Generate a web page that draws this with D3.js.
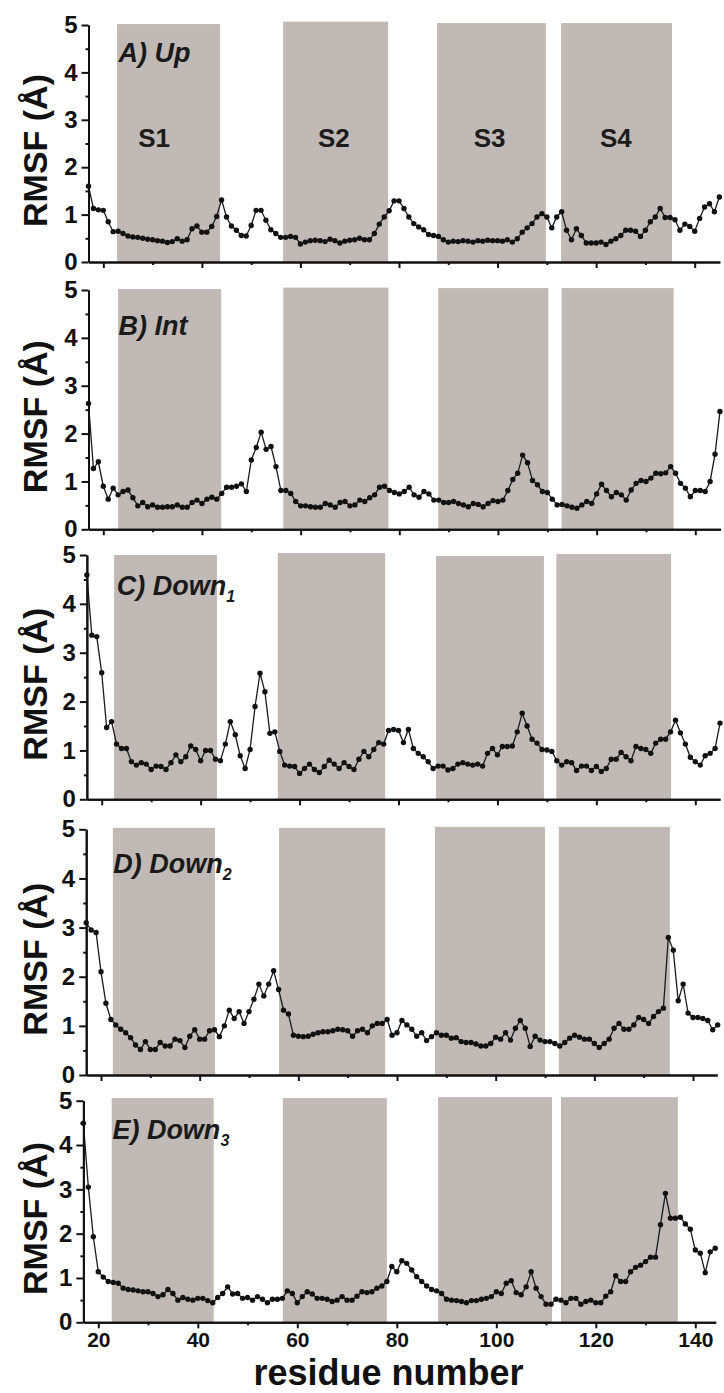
<!DOCTYPE html>
<html>
<head>
<meta charset="utf-8">
<script src="https://cdn.jsdelivr.net/npm/d3@7"></script>
<style>
  body { margin: 0; background: #fff; }
  svg text { font-family: "Liberation Sans", Arial, sans-serif; }
</style>
</head>
<body>
<div id="main"></div>
<script>
var WIDTH = 724
var HEIGHT = 1393

// first residue of every series, one value per residue after that
var firstResidue = 17

var rmsfUp = [1.6, 1.13, 1.1, 1.09, 0.85, 0.64, 0.65, 0.6, 0.55, 0.53,
    0.52, 0.5, 0.48, 0.47, 0.45, 0.44, 0.41, 0.43, 0.49, 0.44,
    0.47, 0.7, 0.76, 0.63, 0.63, 0.75, 0.96, 1.31, 0.95, 0.76,
    0.67, 0.56, 0.55, 0.77, 1.09, 1.09, 0.88, 0.68, 0.6, 0.52,
    0.52, 0.54, 0.52, 0.38, 0.42, 0.45, 0.46, 0.45, 0.43, 0.48,
    0.45, 0.4, 0.44, 0.46, 0.47, 0.5, 0.47, 0.47, 0.6, 0.8,
    0.95, 1.08, 1.29, 1.29, 1.13, 0.95, 0.81, 0.74, 0.68, 0.58,
    0.56, 0.54, 0.47, 0.42, 0.44, 0.43, 0.45, 0.44, 0.42, 0.45,
    0.44, 0.46, 0.45, 0.45, 0.44, 0.47, 0.42, 0.49, 0.63, 0.72,
    0.81, 0.95, 1.02, 0.95, 0.72, 0.95, 1.06, 0.67, 0.47, 0.7,
    0.56, 0.4, 0.4, 0.4, 0.42, 0.37, 0.44, 0.49, 0.56, 0.67,
    0.67, 0.65, 0.54, 0.67, 0.85, 0.95, 1.13, 0.94, 0.94, 0.89,
    0.67, 0.8, 0.75, 0.65, 0.92, 1.16, 1.23, 1.06, 1.37]

var rmsfInt = [2.63, 1.27, 1.41, 0.9, 0.63, 0.86, 0.72, 0.79, 0.82, 0.66,
    0.49, 0.56, 0.47, 0.51, 0.46, 0.46, 0.47, 0.47, 0.51, 0.46,
    0.46, 0.56, 0.61, 0.54, 0.63, 0.67, 0.63, 0.75, 0.88, 0.88,
    0.9, 0.95, 0.79, 1.45, 1.71, 2.03, 1.67, 1.73, 1.31, 0.81,
    0.81, 0.75, 0.58, 0.49, 0.49, 0.47, 0.46, 0.46, 0.54, 0.51,
    0.46, 0.56, 0.58, 0.49, 0.51, 0.61, 0.58, 0.66, 0.72, 0.88,
    0.9, 0.81, 0.77, 0.74, 0.79, 0.88, 0.72, 0.67, 0.79, 0.74,
    0.61, 0.61, 0.56, 0.56, 0.58, 0.54, 0.51, 0.47, 0.54, 0.52,
    0.47, 0.54, 0.6, 0.58, 0.61, 0.81, 1.04, 1.17, 1.55, 1.39,
    1.02, 0.93, 0.79, 0.77, 0.63, 0.51, 0.52, 0.49, 0.46, 0.44,
    0.51, 0.58, 0.54, 0.74, 0.94, 0.81, 0.68, 0.77, 0.72, 0.61,
    0.82, 0.96, 1.02, 1.0, 1.07, 1.17, 1.16, 1.18, 1.31, 1.17,
    0.96, 0.86, 0.68, 0.81, 0.81, 0.79, 1.0, 1.57, 2.46]

var rmsfDown1 = [4.59, 3.36, 3.33, 2.59, 1.47, 1.59, 1.13, 1.04, 1.04, 0.77,
    0.7, 0.75, 0.72, 0.61, 0.68, 0.67, 0.61, 0.75, 0.91, 0.77,
    0.87, 1.09, 1.02, 0.79, 1.0, 1.0, 0.82, 0.79, 1.13, 1.59,
    1.32, 0.89, 0.63, 1.02, 1.9, 2.58, 2.2, 1.35, 1.38, 0.98,
    0.7, 0.68, 0.67, 0.53, 0.63, 0.72, 0.61, 0.55, 0.67, 0.8,
    0.72, 0.63, 0.75, 0.67, 0.61, 0.82, 0.98, 0.87, 1.02, 1.16,
    1.13, 1.41, 1.43, 1.41, 1.16, 1.43, 1.04, 0.94, 0.87, 0.77,
    0.63, 0.68, 0.68, 0.6, 0.63, 0.72, 0.75, 0.72, 0.7, 0.72,
    0.68, 0.94, 1.04, 0.91, 1.08, 1.08, 1.09, 1.38, 1.76, 1.5,
    1.23, 1.15, 1.02, 1.01, 0.98, 0.79, 0.7, 0.77, 0.75, 0.59,
    0.68, 0.68, 0.59, 0.67, 0.57, 0.63, 0.82, 0.82, 0.96, 0.87,
    0.79, 1.08, 1.04, 1.02, 0.94, 1.15, 1.23, 1.23, 1.38, 1.62,
    1.36, 1.13, 0.86, 0.77, 0.7, 0.89, 0.94, 1.04, 1.56]

var rmsfDown2 = [3.1, 2.95, 2.9, 2.1, 1.46, 1.13, 1.02, 0.93, 0.86, 0.76,
    0.61, 0.52, 0.68, 0.52, 0.52, 0.66, 0.59, 0.59, 0.73, 0.7,
    0.56, 0.79, 0.92, 0.73, 0.73, 0.9, 0.92, 0.78, 1.0, 1.32,
    1.15, 1.29, 1.05, 1.29, 1.54, 1.85, 1.61, 1.85, 2.12, 1.74,
    1.32, 1.24, 0.81, 0.79, 0.78, 0.79, 0.83, 0.86, 0.88, 0.88,
    0.9, 0.93, 0.92, 0.9, 0.79, 0.9, 0.93, 0.86, 1.0, 1.05,
    1.05, 1.13, 0.81, 0.86, 1.11, 1.02, 0.93, 0.79, 0.86, 0.7,
    0.78, 0.86, 0.81, 0.81, 0.75, 0.76, 0.68, 0.66, 0.66, 0.63,
    0.59, 0.59, 0.64, 0.77, 0.73, 0.86, 0.71, 0.95, 1.11, 0.95,
    0.58, 0.79, 0.71, 0.68, 0.68, 0.64, 0.59, 0.66, 0.75, 0.81,
    0.77, 0.73, 0.73, 0.64, 0.56, 0.64, 0.73, 0.95, 1.05, 0.93,
    0.93, 1.02, 1.17, 1.13, 1.05, 1.19, 1.29, 1.36, 2.8, 2.54,
    1.51, 1.85, 1.26, 1.17, 1.17, 1.15, 1.11, 0.92, 1.02]

var rmsfDown3 = [4.49, 3.05, 1.93, 1.14, 1.02, 0.92, 0.9, 0.88, 0.77, 0.74,
    0.73, 0.71, 0.69, 0.69, 0.65, 0.58, 0.62, 0.74, 0.65, 0.5,
    0.56, 0.52, 0.5, 0.54, 0.54, 0.49, 0.44, 0.56, 0.65, 0.8,
    0.64, 0.65, 0.54, 0.56, 0.5, 0.58, 0.52, 0.44, 0.52, 0.52,
    0.54, 0.71, 0.65, 0.44, 0.58, 0.69, 0.64, 0.54, 0.54, 0.52,
    0.47, 0.5, 0.58, 0.5, 0.5, 0.59, 0.69, 0.67, 0.69, 0.77,
    0.82, 0.92, 1.26, 1.14, 1.39, 1.33, 1.18, 1.03, 0.92, 0.82,
    0.74, 0.71, 0.65, 0.52, 0.5, 0.49, 0.47, 0.44, 0.49, 0.49,
    0.52, 0.54, 0.58, 0.69, 0.65, 0.88, 0.94, 0.67, 0.62, 0.8,
    1.14, 0.77, 0.58, 0.41, 0.41, 0.52, 0.5, 0.44, 0.54, 0.54,
    0.41, 0.47, 0.5, 0.44, 0.44, 0.59, 0.69, 1.05, 0.92, 0.92,
    1.14, 1.24, 1.29, 1.37, 1.47, 1.47, 2.2, 2.91, 2.35, 2.35,
    2.37, 2.22, 2.1, 1.63, 1.56, 1.12, 1.59, 1.67]

// segment bands [start residue, end residue, top]
var bandsUp = [[22.8, 43.7, 5.02], [56.5, 77.8, 5.07], [87.7, 109.8, 5.04], [112.9, 135.4, 5.04]]
var bandsInt = [[23.0, 43.9, 5.02], [56.5, 77.8, 5.05], [87.9, 110.2, 5.04], [112.9, 135.6, 5.04]]
var bandsDown1 = [[22.5, 43.3, 5.0], [55.6, 77.3, 5.04], [87.6, 109.4, 4.98], [111.9, 135.1, 5.02]]
var bandsDown2 = [[22.4, 43.1, 5.03], [56.1, 77.6, 5.03], [87.7, 110.0, 5.05], [112.8, 135.3, 5.05]]
var bandsDown3 = [[22.7, 43.2, 5.06], [57.1, 78.0, 5.06], [88.3, 111.2, 5.08], [113.0, 136.5, 5.08]]

var segmentNames = ["S1", "S2", "S3", "S4"]
var segmentLabelX = [30.3, 66.8, 98.4, 124.0]
var segmentLabelY = 2.43

var panelLetters = ["A) ", "B) ", "C) ", "D) ", "E) "]
var panelStates = ["Up", "Int", "Down", "Down", "Down"]
var panelSubs = ["", "", "1", "2", "3"]

var yTicks = [0, 1, 2, 3, 4, 5]
var yMinor = [0.5, 1.5, 2.5, 3.5, 4.5]
var xTicks = [20, 40, 60, 80, 100, 120, 140]
var xMinor = [30, 50, 70, 90, 110, 130]

// pixel layout of each panel (reference is a stack of separately scaled plots)
var layout = [
    { top: 25, bottom: 262, x20: 103.3, x140: 694.7, xEnd: 145.1, labDy: 37, labDx: 30 },
    { top: 290, bottom: 529.3, x20: 103.3, x140: 695.3, xEnd: 145.1, labDy: 45, labDx: 30 },
    { top: 555, bottom: 799.3, x20: 101.7, x140: 695.3, xEnd: 145.0, labDy: 40, labDx: 30 },
    { top: 829.3, bottom: 1075, x20: 101, x140: 693, xEnd: 144.9, labDy: 44, labDx: 27 },
    { top: 1100.7, bottom: 1322.3, x20: 98.3, x140: 695.3, xEnd: 144.1, labDy: 38, labDx: 29 }
]

var series = [rmsfUp, rmsfInt, rmsfDown1, rmsfDown2, rmsfDown3]
var bands = [bandsUp, bandsInt, bandsDown1, bandsDown2, bandsDown3]

const svg = d3.select('#main').append('svg')
    .attr('width', WIDTH)
    .attr('height', HEIGHT)

series.forEach(function (vals, i) {
    var L = layout[i]
    var k = (L.x140 - L.x20) / 120
    var x = d3.scaleLinear()
        .domain([firstResidue, L.xEnd])
        .range([L.x20 - (20 - firstResidue) * k, L.x20 + (L.xEnd - 20) * k])
    var y = d3.scaleLinear().domain([0, 5]).range([L.bottom, L.top])

    var g = svg.append('g')

    // shaded segments
    g.selectAll('rect.band')
        .data(bands[i])
        .enter()
        .append('rect')
        .attr('class', 'band')
        .attr('x', d => x(d[0]))
        .attr('width', d => x(d[1]) - x(d[0]))
        .attr('y', d => y(d[2]))
        .attr('height', d => y(0) - y(d[2]))
        .attr('fill', '#c0b9b5')

    if (i == 0) {
        g.selectAll('text.seg')
            .data(segmentNames)
            .enter()
            .append('text')
            .attr('class', 'seg')
            .attr('x', (d, j) => x(segmentLabelX[j]))
            .attr('y', y(segmentLabelY))
            .attr('text-anchor', 'middle')
            .attr('font-size', 26)
            .attr('font-weight', 'bold')
            .attr('fill', '#1c1c1c')
            .text(d => d)
    }

    var pts = vals.map((v, j) => [firstResidue + j, v])

    var line = d3.line().x(d => x(d[0])).y(d => y(d[1]))
    g.append('path')
        .datum(pts)
        .attr('d', line)
        .attr('fill', 'none')
        .attr('stroke', '#1a1a1a')
        .attr('stroke-width', 1.3)

    g.selectAll('circle')
        .data(pts)
        .enter()
        .append('circle')
        .attr('cx', d => x(d[0]))
        .attr('cy', d => y(d[1]))
        .attr('r', 2.7)
        .attr('fill', '#111')

    // axes
    g.append('g')
        .attr('transform', 'translate(' + x.range()[0] + ',0)')
        .call(d3.axisLeft(y).tickValues(yTicks).tickSize(7).tickSizeOuter(0).tickPadding(4).tickFormat(d3.format('d')))
    g.append('g')
        .attr('transform', 'translate(' + x.range()[0] + ',0)')
        .call(d3.axisLeft(y).tickValues(yMinor).tickSize(3).tickSizeOuter(0).tickFormat(''))

    var xa = g.append('g')
        .attr('transform', 'translate(0,' + L.bottom + ')')
        .call(d3.axisBottom(x).tickValues(xTicks).tickSize(6).tickSizeOuter(0).tickPadding(4)
            .tickFormat(i == 4 ? d3.format('d') : ''))
    g.append('g')
        .attr('transform', 'translate(0,' + L.bottom + ')')
        .call(d3.axisBottom(x).tickValues(xMinor).tickSize(3).tickSizeOuter(0).tickFormat(''))

    g.selectAll('.domain').attr('stroke', '#111').attr('stroke-width', 2)
    g.selectAll('.tick line').attr('stroke', '#111').attr('stroke-width', 2)
    g.selectAll('.tick text')
        .attr('font-family', '"Liberation Sans", Arial, sans-serif')
        .attr('font-size', 24)
        .attr('font-weight', 'bold')
        .attr('fill', '#111')
    xa.selectAll('.tick text').attr('font-size', 21)

    // panel label
    var lab = g.append('text')
        .attr('x', x.range()[0] + L.labDx)
        .attr('y', L.top + L.labDy)
        .attr('font-size', 27)
        .attr('font-weight', 'bold')
        .attr('font-style', 'italic')
        .attr('fill', '#1a1a1a')
    lab.append('tspan').text(panelLetters[i] + panelStates[i])
    if (panelSubs[i]) {
        lab.append('tspan')
            .attr('font-size', 16)
            .attr('dy', 7)
            .text(panelSubs[i])
    }

    // y title
    g.append('text')
        .attr('transform', 'translate(47,' + ((L.top + L.bottom) / 2 + 7) + ') rotate(-90)')
        .attr('text-anchor', 'middle')
        .attr('font-size', 34)
        .attr('font-weight', 'bold')
        .attr('fill', '#111')
        .text('RMSF (Å)')
})

svg.append('text')
    .attr('x', 388.5)
    .attr('y', 1385)
    .attr('text-anchor', 'middle')
    .attr('font-size', 36)
    .attr('font-weight', 'bold')
    .attr('fill', '#111')
    .text('residue number')
</script>
</body>
</html>
